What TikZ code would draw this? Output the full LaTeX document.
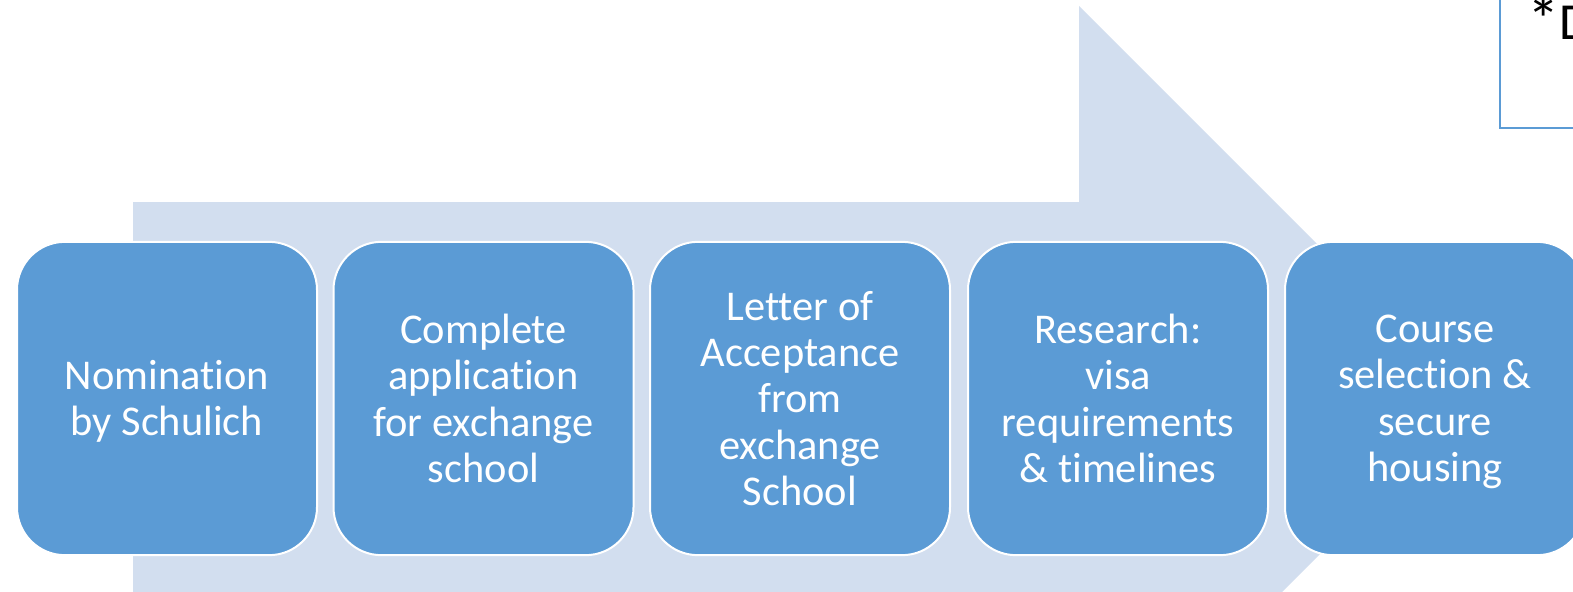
\documentclass[tikz,border=0pt]{standalone}
\usepackage{fontspec}
\setmainfont{Carlito}[Ligatures=NoCommon]
\definecolor{boxblue}{HTML}{5B9BD5}
\definecolor{arrowblue}{HTML}{D2DEEF}
\begin{document}
\begin{tikzpicture}[x=0.75pt,y=-0.75pt,
  stepbox/.style={rounded corners=36pt, fill=boxblue, draw=white, line width=1.5pt,
    minimum width=225pt, minimum height=235pt, inner sep=0pt},
  steptext/.style={align=center, text=white, inner sep=0pt,
    font=\fontsize{31.8}{34.7}\selectfont,
    execute at begin node=\strut, execute at end node=\strut}]
\useasboundingbox (0,0) rectangle (1573,592);
\clip (0,0) rectangle (1573,592);
% background arrow
\fill[arrowblue] (133,202) -- (1079,202) -- (1079,6) -- (1473.5,400.5) -- (1079,795) -- (1079,599) -- (133,599) -- cycle;
% steps
\node[stepbox] (b1) at (167,398.5) {};
\node[stepbox] (b2) at (483.5,398.5) {};
\node[stepbox] (b3) at (800,398.5) {};
\node[stepbox] (b4) at (1118,398.5) {};
\node[stepbox] (b5) at (1435,398.5) {};
\node[steptext] (t1) at ([yshift=-5pt]b1.center) {Nomination\\by Schulich};
\node[steptext] (t2) at ([yshift=-5pt]b2.center) {Complete\\application\\for exchange\\school};
\node[steptext] (t3) at ([yshift=-5pt]b3.center) {Letter of\\Acceptance\\from\\exchange\\School};
\node[steptext] (t4) at ([yshift=-5pt]b4.center) {Research:\\visa\\requirements\\\& timelines};
\node[steptext] (t5) at ([yshift=-5pt]b5.center) {Course\\selection \&\\secure\\housing};
% note box (cut off)
\draw[boxblue, line width=1.2pt, fill=white] (1500,-10) rectangle (1600,128);
\node[anchor=base west, inner sep=0pt, font=\fontsize{39}{44}\selectfont] (note) at (1527,40) {\raisebox{-2pt}{\scalebox{1.25}{*}}D};
\end{tikzpicture}
\end{document}
